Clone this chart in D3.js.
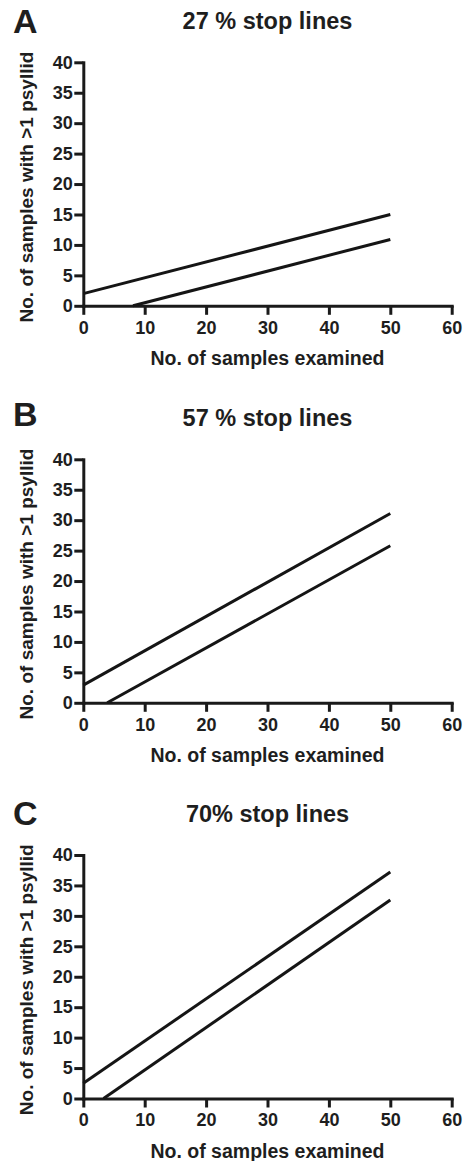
<!DOCTYPE html>
<html>
<head>
<meta charset="utf-8">
<script src="https://cdn.jsdelivr.net/npm/d3@7"></script>
<style>
  body { margin: 0; background: #fff; }
  text { font-family: "Liberation Sans", Arial, sans-serif; font-weight: bold; fill: #1e1e1e; }
</style>
</head>
<body>
<div id="chart"></div>
<script>
// data
const xTicks = [0, 10, 20, 30, 40, 50, 60];
const yTicks = [0, 5, 10, 15, 20, 25, 30, 35, 40];
const panelLetters = ["A", "B", "C"];
const panelTitles = ["27 % stop lines", "57 % stop lines", "70% stop lines"];
const upperLines = [
  [[0, 2.0], [50, 15.0]],
  [[0, 2.9], [50, 31.1]],
  [[0, 2.5], [50, 37.2]]
];
const lowerLines = [
  [[8.1, 0], [50, 10.9]],
  [[3.9, 0], [50, 25.8]],
  [[3.3, 0], [50, 32.6]]
];
const xLabel = "No. of samples examined";
const yLabel = "No. of samples with >1 psyllid";

const svgWidth = 465;
const svgHeight = 1161;
const plotLeft = 83.3, plotRight = 451.7, plotHeight = 243.5;
const plotTops = [62.3, 459.3, 855];
const letterDy = [-29, -33.6, -30.5];

const svg = d3.select("#chart")
    .append("svg")
    .attr("width", svgWidth)
    .attr("height", svgHeight);

const x = d3.scaleLinear()
    .domain([0, 60])
    .range([plotLeft, plotRight]);

const y = d3.scaleLinear()
    .domain([0, 40])
    .range([plotHeight, 0]);

const line = d3.line()
    .x(d => x(d[0]))
    .y(d => y(d[1]));

panelLetters.forEach(function(letter, i) {
  const g = svg.append("g")
      .attr("transform", `translate(0,${plotTops[i]})`);

  g.append("text")
      .attr("x", 13)
      .attr("y", letterDy[i])
      .attr("font-size", 34)
      .text(letter);

  g.append("text")
      .attr("x", (plotLeft + plotRight) / 2)
      .attr("y", -33.3)
      .attr("text-anchor", "middle")
      .attr("font-size", 23.5)
      .text(panelTitles[i]);

  // x axis
  const gx = g.append("g")
      .attr("transform", `translate(0,${plotHeight})`)
      .call(d3.axisBottom(x).tickValues(xTicks).tickSize(9).tickSizeOuter(0).tickPadding(6));

  // y axis
  const gy = g.append("g")
      .attr("transform", `translate(${plotLeft},0)`)
      .call(d3.axisLeft(y).tickValues(yTicks).tickSize(9).tickSizeOuter(0).tickPadding(1.5));

  [gx, gy].forEach(a => {
    a.selectAll("path.domain").attr("stroke", "#1a1a1a").attr("stroke-width", 3).attr("stroke-linecap", "square");
    a.selectAll(".tick line").attr("stroke", "#1a1a1a").attr("stroke-width", 3);
    a.selectAll(".tick text")
        .attr("font-size", 18)
        .attr("fill", "#1e1e1e")
        .style("font-family", '"Liberation Sans", Arial, sans-serif')
        .style("font-weight", "bold");
  });

  g.append("text")
      .attr("x", (plotLeft + plotRight) / 2)
      .attr("y", plotHeight + 59.5)
      .attr("text-anchor", "middle")
      .attr("font-size", 19.5)
      .text(xLabel);

  g.append("text")
      .attr("transform", `translate(33,${plotHeight / 2 + 3}) rotate(-90)`)
      .attr("text-anchor", "middle")
      .attr("font-size", 19)
      .text(yLabel);

  [upperLines[i], lowerLines[i]].forEach(pts => {
    g.append("path")
        .datum(pts)
        .attr("fill", "none")
        .attr("stroke", "#151515")
        .attr("stroke-width", 3)
        .attr("d", line);
  });
});
</script>
</body>
</html>
